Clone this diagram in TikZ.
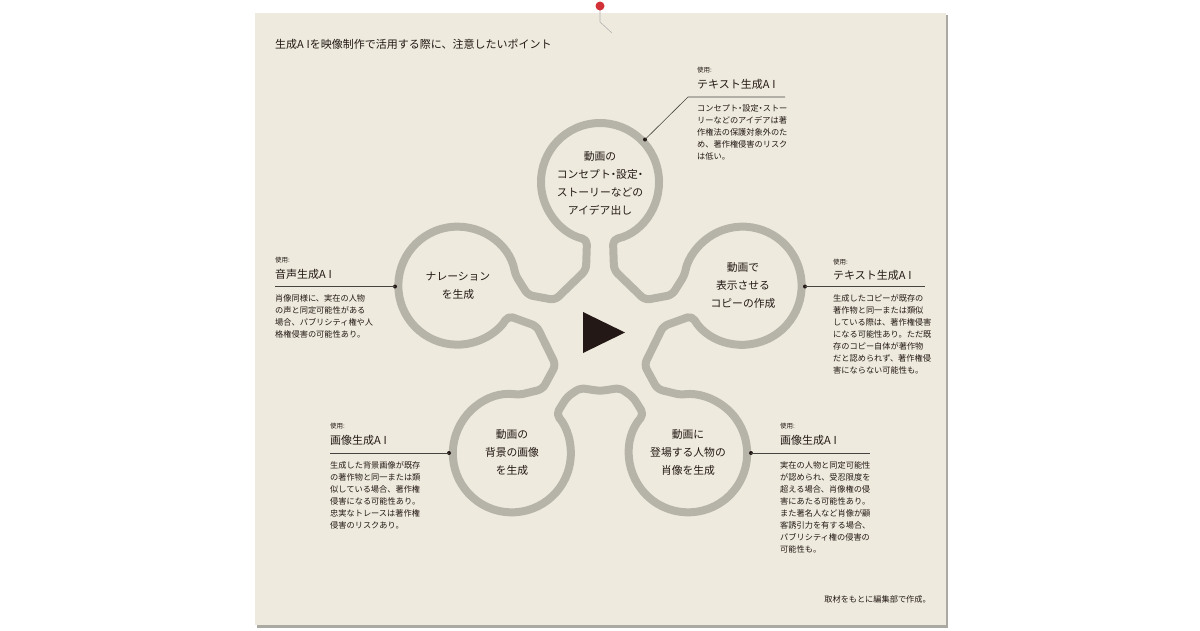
\documentclass[tikz,border=0pt]{standalone}
\usepackage{fontspec}
\setmainfont{Noto Sans CJK JP}
\definecolor{paper}{RGB}{238,235,222}
\definecolor{ringcol}{RGB}{182,180,168}
\definecolor{ink}{RGB}{35,24,21}
\definecolor{leadercol}{RGB}{70,68,64}
\definecolor{pinred}{RGB}{208,50,56}
\definecolor{shadowcol}{RGB}{170,170,162}
\newcommand\nkdot{\makebox[0.5em]{・}}
\newcommand\AIt{A\hspace{0.25em}I}
\begin{document}
\begin{tikzpicture}[x=1pt,y=-1pt,
  every node/.style={inner sep=0pt, text=ink},
  flower/.style={draw=ringcol, line width=8pt, rounded corners=5pt, line join=round},
  circtext/.style={align=center, font=\fontsize{10.8}{18}\selectfont},
  uselabel/.style={anchor=west, font=\fontsize{6.5}{7}\selectfont},
  toolname/.style={anchor=west, font=\fontsize{11}{12}\selectfont},
  bodytext/.style={anchor=north west, align=left, font=\fontsize{8.2}{12}\selectfont},
  leaderline/.style={draw=leadercol, line width=0.9pt},
  dotnode/.style={circle, fill=ink, minimum size=4pt, inner sep=0pt}
]
\useasboundingbox (0,0) rectangle (1200,630);
\fill[white] (0,0) rectangle (1200,630);
% paper and shadow
\fill[shadowcol] (257,15) rectangle (947.5,627.5);
\fill[paper] (255,13) rectangle (946,625);
% pin
\draw[gray!60, line width=0.6pt] (600,9) -- (600,22) -- (612,33);
\fill[pinred] (600,6) circle[radius=4.5];

% title
\node[anchor=west, font=\fontsize{11}{12}\selectfont] (title) at (275,44) {生成\AIt を映像制作で活用する際に、注意したいポイント};

% flower outline
\begin{scope}[shift={(600,332)}, yscale=-1]
\draw[flower] (0,-59) -- (20,-56) -- (33,-65) -- (43.84,-82.41)
 arc[start angle=138.7,end angle=457.5,radius=59]
 -- (57.4,-57.1) -- (44.3,-32.9) -- (63.3,5.85) -- (91.93,16.23)
 arc[start angle=210.7,end angle=529.5,radius=59]
 -- (72,37) -- (45,32) -- (14,62) -- (12.97,92.44)
 arc[start angle=282.7,end angle=617.3,radius=59]
 -- (-14,62) -- (-45,32) -- (-72,37) -- (-84.65,57.1)
 arc[start angle=10.5,end angle=329.3,radius=59]
 -- (-63.3,5.85) -- (-44.3,-32.9) -- (-57.4,-57.1) -- (-80.47,-62.85)
 arc[start angle=82.5,end angle=401.3,radius=59]
 -- (-33,-65) -- (-20,-56) -- cycle;
\end{scope}

% play triangle
\fill[ink] (583,312) -- (583,353) -- (625,332.5) -- cycle;

% circle texts
\node[circtext] (c1) at (600,183) {動画の\\コンセプト\nkdot 設定\nkdot\\ストーリーなどの\\アイデア出し};
\node[circtext] (c2) at (743,285) {動画で\\表示させる\\コピーの作成};
\node[circtext] (c3) at (688,452) {動画に\\登場する人物の\\肖像を生成};
\node[circtext] (c4) at (512,452) {動画の\\背景の画像\\を生成};
\node[circtext] (c5) at (458,286) {ナレーション\\を生成};

% leader 1 (top)
\node[dotnode] (d1) at (645,139.5) {};
\coordinate (k1) at (688,97);
\coordinate (e1) at (785,97);
\draw[leaderline, line width=0.6pt] (d1.center) -- (k1) -- (e1);
\node[uselabel] (u1) at (697,70) {使用:};
\node[toolname] (t1) at (697,84) {テキスト生成\AIt};
\node[bodytext] (b1) at (697,104) {コンセプト\nkdot 設定\nkdot ストー\\リーなどのアイデアは著\\作権法の保護対象外のた\\め、著作権侵害のリスク\\は低い。};

% leader 2 (right)
\node[dotnode] (d2) at (805,286.5) {};
\coordinate (e2) at (925,286.5);
\draw[leaderline] (d2.center) -- (e2);
\node[uselabel] (u2) at (833,262) {使用:};
\node[toolname] (t2) at (833,275) {テキスト生成\AIt};
\node[bodytext] (b2) at (833,294) {生成したコピーが既存の\\著作物と同一または類似\\している際は、著作権侵害\\になる可能性あり。ただ既\\存のコピー自体が著作物\\だと認められず、著作権侵\\害にならない可能性も。};

% leader 3 (bottom right)
\node[dotnode] (d3) at (751,453) {};
\coordinate (e3) at (870,453);
\draw[leaderline] (d3.center) -- (e3);
\node[uselabel] (u3) at (780,426) {使用:};
\node[toolname] (t3) at (780,440) {画像生成\AIt};
\node[bodytext] (b3) at (780,461) {実在の人物と同定可能性\\が認められ、受忍限度を\\超える場合、肖像権の侵\\害にあたる可能性あり。\\また著名人など肖像が顧\\客誘引力を有する場合、\\パブリシティ権の侵害の\\可能性も。};

% leader 4 (bottom left)
\node[dotnode] (d4) at (449,453) {};
\coordinate (e4) at (330,453);
\draw[leaderline] (d4.center) -- (e4);
\node[uselabel] (u4) at (330,426) {使用:};
\node[toolname] (t4) at (330,440) {画像生成\AIt};
\node[bodytext] (b4) at (330,461) {生成した背景画像が既存\\の著作物と同一または類\\似している場合、著作権\\侵害になる可能性あり。\\忠実なトレースは著作権\\侵害のリスクあり。};

% leader 5 (left)
\node[dotnode] (d5) at (395,286.5) {};
\coordinate (e5) at (275,286.5);
\draw[leaderline] (d5.center) -- (e5);
\node[uselabel] (u5) at (275,260) {使用:};
\node[toolname] (t5) at (275,274) {音声生成\AIt};
\node[bodytext] (b5) at (275,294) {肖像同様に、実在の人物\\の声と同定可能性がある\\場合、パブリシティ権や人\\格権侵害の可能性あり。};

% footnote
\node[anchor=east, font=\fontsize{8.2}{10}\selectfont] (note) at (931,599) {取材をもとに編集部で作成。};
\end{tikzpicture}
\end{document}
